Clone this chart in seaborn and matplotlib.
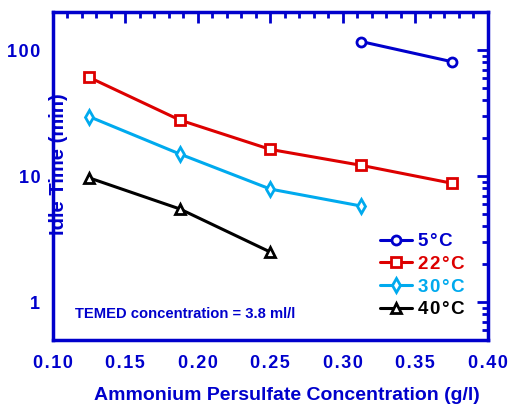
import numpy as np
import pandas as pd
import matplotlib
matplotlib.use("Agg")
import matplotlib.pyplot as plt
import matplotlib.ticker as mticker
import seaborn as sns

# ── Data ────────────────────────────────────────────────────
conc_5 = [0.3125, 0.375]
time_5 = [117, 81]

conc_22 = [0.125, 0.1875, 0.25, 0.3125, 0.375]
time_22 = [60.8, 27.9, 16.3, 12.2, 8.8]

conc_30 = [0.125, 0.1875, 0.25, 0.3125]
time_30 = [29.7, 15.0, 7.9, 5.8]

conc_40 = [0.125, 0.1875, 0.25]
time_40 = [9.7, 5.5, 2.5]

labels = ["5°C", "22°C", "30°C", "40°C"]
x_ticks = [0.10, 0.15, 0.20, 0.25, 0.30, 0.35, 0.40]
y_ticks = [1, 10, 100]

BLUE = "#0000CC"
colors = [BLUE, "#DD0000", "#00AAEE", "#000000"]
markers = ["o", "s", "d", "^"]
msizes = [6.5, 7, 7, 7]

HS = "\u200a"  # hair space, the reference labels are letter-spaced


def spaced(s):
    return HS.join(s)


sns.set_theme(style="white")
plt.rcParams["font.family"] = ["Liberation Sans", "DejaVu Sans"]
plt.rcParams["font.weight"] = "bold"

fig = plt.figure(figsize=(5.13, 4.05), dpi=100)
ax = fig.add_axes([0.103, 0.160, 0.848, 0.810])

series = [(conc_5, time_5), (conc_22, time_22), (conc_30, time_30), (conc_40, time_40)]
for (xs, ys), lab, c, m, ms in zip(series, labels, colors, markers, msizes):
    df = pd.DataFrame({"x": xs, "y": ys})
    sns.lineplot(data=df, x="x", y="y", ax=ax, color=c, linewidth=2.2,
                 marker=m, markersize=ms, markerfacecolor="white",
                 markeredgecolor=c, markeredgewidth=2, label=spaced(lab))

ax.set_yscale("log")
ax.set_xlim(0.10, 0.40)
ax.set_ylim(0.5, 200)

ax.set_xticks(x_ticks)
ax.xaxis.set_major_formatter(mticker.FuncFormatter(lambda v, p: spaced(f"{v:.2f}")))
ax.xaxis.set_minor_locator(mticker.MultipleLocator(0.01))
ax.set_yticks(y_ticks)
ax.yaxis.set_major_formatter(mticker.FixedFormatter([spaced(str(v)) for v in y_ticks]))
ax.yaxis.set_minor_locator(mticker.LogLocator(base=10, subs=np.arange(2, 10)))
ax.yaxis.set_minor_formatter(mticker.NullFormatter())

for sp in ax.spines.values():
    sp.set_color(BLUE)
    sp.set_linewidth(2.5)

ax.tick_params(which="both", direction="in", top=True, right=True, color=BLUE,
               width=2, labelcolor=BLUE, labelsize=13)
ax.tick_params(which="major", length=8)
ax.tick_params(axis="x", which="major", pad=11)
ax.tick_params(axis="y", which="major", pad=9)
ax.tick_params(which="minor", length=4)
for t in ax.get_xticklabels() + ax.get_yticklabels():
    t.set_fontweight("bold")

ax.set_xlabel("Ammonium Persulfate Concentration (g/l)", color=BLUE,
              fontsize=14, fontweight="bold")
ax.xaxis.set_label_coords(0.537, -0.143)
ax.set_ylabel("Idle Time (min)", color=BLUE, fontsize=14.5, fontweight="bold")
ax.yaxis.set_label_coords(0.034, 0.537)

ax.text(0.05, 0.079, "TEMED concentration = 3.8 ml/l", transform=ax.transAxes,
        color=BLUE, fontsize=10.6, fontweight="bold", va="center")

leg = ax.legend(loc="lower right", bbox_to_anchor=(0.985, 0.015), frameon=False,
                handlelength=1.7, handletextpad=0.3, labelspacing=0.3,
                prop={"size": 13.5, "weight": "bold"})
for txt, c in zip(leg.get_texts(), colors):
    txt.set_color(c)

fig.savefig("out.png", dpi=100)
